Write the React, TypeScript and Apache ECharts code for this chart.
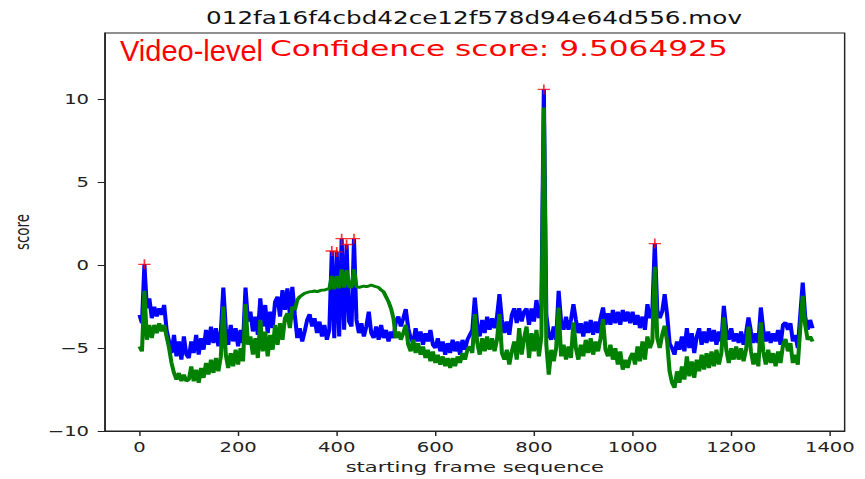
import React, { useEffect, useRef } from "react";
import * as echarts from "echarts";

// Frame step between consecutive samples
const STEP = 5;

// Blue curve (per-window score), one value every STEP frames
const blueScores = [
  -3.0, -3.5, 0.05, -2.6, -2.0, -3.2, -2.5, -3.1, -2.6, -3.0, -2.4,
  -3.9, -4.6, -5.3, -4.2, -5.5, -4.6, -5.7, -4.3, -5.4, -5.6, -4.6, -5.3,
  -4.2, -5.4, -4.4, -5.1, -3.9, -4.8, -3.7, -4.7, -3.8, -4.9, -4.0,
  -1.35,
  -3.8, -4.8, -3.6, -4.6, -3.8, -4.9, -3.9, -4.7,
  -1.35,
  -3.4, -2.8, -4.0, -3.1, -4.2, -2.0, -3.7, -2.4, -4.1, -2.8, -3.8, -2.2,
  -1.9, -3.1, -1.5, -2.7, -1.4, -3.0,
  -1.3,
  -3.0, -4.4, -3.8, -4.6, -4.0, -3.3, -2.95, -3.7, -3.2, -4.1, -3.4, -4.3,
  -3.6, -4.5, -3.9,
  0.85, -4.4, 0.8, -4.3, 1.6, -3.9, 1.25, -3.4, -3.7, 1.6,
  -3.3, -4.1, -3.5, -4.3, -3.7, -2.8, -4.1, -4.4, -3.7, -4.5, -3.6, -4.4,
  -3.9, -4.6, -4.0, -4.4, -3.4, -3.1, -3.7, -3.2,
  -2.65,
  -3.8, -4.4, -4.7, -3.8, -4.6, -4.0, -4.8, -4.1, -4.6, -3.9, -4.8, -5.0,
  -4.4, -5.2, -4.6, -5.4, -4.7, -5.3, -4.5, -5.2, -4.6, -5.4, -4.5, -5.1, -4.5,
  -4.2, -3.9, -1.95,
  -3.6, -4.3, -3.3, -4.1, -3.1, -3.9, -3.2, -3.8, -3.1,
  -1.75,
  -3.3, -4.1, -3.4, -4.2, -3.0, -2.6, -3.5, -2.6, -3.4, -2.8, -2.6, -3.6,
  -2.6, -3.4, -2.1, -3.2, -2.5,
  10.6,
  -3.0, -4.2, -4.5, -3.7, -4.5,
  -1.55,
  -3.4, -3.9, -3.1, -3.9, -3.3,
  -2.35,
  -3.3, -4.1, -3.5, -4.3, -3.4, -4.1, -3.3, -4.2, -3.4, -4.1, -3.2,
  -2.55,
  -3.6, -2.9, -3.6, -2.7, -3.5, -2.8, -3.6, -2.7, -3.4, -2.8, -3.5, -2.8,
  -3.6, -3.0, -3.8, -3.1, -3.9,
  -2.35, -3.2, -2.8, 1.3, -2.7, -3.2, -2.8, -1.75, -3.0,
  -4.7, -5.0, -5.4, -4.6, -5.1, -4.3, -5.2, -3.8, -5.0, -4.1, -5.3, -4.3,
  -3.8, -4.8, -4.0, -4.7, -3.8, -4.6, -3.9, -4.8, -4.0, -4.6,
  -2.45,
  -3.9, -4.5, -3.8, -4.6, -4.1, -4.7, -4.0, -4.8, -4.1,
  -3.15,
  -4.0, -4.7, -4.1, -4.7,
  -2.55,
  -3.9, -4.6, -4.0, -4.7, -4.1, -4.6, -3.9, -4.8, -3.6, -3.45, -3.9, -3.5,
  -4.6, -4.2, -5.0, -3.0,
  -1.05,
  -3.1, -3.9, -3.3, -3.8,
];

// Green curve (smoothed score), one value every STEP frames
const greenScores = [
  -4.9, -5.2, -1.55, -4.5, -3.6, -4.4, -3.6, -4.1, -3.5, -4.0, -3.6,
  -4.3, -5.0, -5.9, -6.5, -6.9, -6.5, -7.0, -6.6, -7.0,
  -6.9, -6.1, -7.0, -6.3, -7.1, -6.2, -6.8, -5.9, -6.6, -5.7, -6.5, -5.6,
  -6.4, -5.5,
  -2.5,
  -5.4, -6.2, -5.3, -6.1, -5.1, -6.0, -5.0, -5.8,
  -2.35,
  -4.8, -4.3, -5.4, -4.4, -5.6, -3.3, -5.2, -4.0, -5.5, -4.2, -5.1, -3.6,
  -4.8, -3.5, -4.5, -3.2, -2.9, -3.8,
  -2.5, -2.7, -2.1, -1.9, -1.8, -1.7, -1.65, -1.6, -1.6, -1.55, -1.6, -1.55,
  -1.5, -1.5, -1.45, -1.45,
  -0.65, -1.45, -0.65, -1.4, -0.25, -1.35, -0.3, -1.3, -1.35, -0.25,
  -1.3, -1.35, -1.3, -1.25, -1.3, -1.25, -1.2, -1.25, -1.3, -1.35, -1.5, -1.6,
  -1.9, -2.2, -2.6, -3.2, -4.4, -4.0, -4.5, -4.1,
  -3.6,
  -4.8, -5.2, -4.5, -5.3, -4.7, -5.4, -4.9, -5.6, -5.1, -5.8, -5.2, -5.9,
  -5.4, -6.0, -5.5, -6.1, -5.6, -6.2, -5.6, -6.1, -5.5, -5.9, -5.3, -5.7, -5.1,
  -4.9, -5.3, -2.95,
  -4.7, -5.4, -4.4, -5.2, -4.3, -5.1, -4.4, -5.2, -4.5,
  -2.95,
  -5.3, -5.7, -5.1, -6.0, -5.2, -4.6, -5.7, -3.8, -5.4, -4.4, -3.7, -5.6,
  -4.1, -5.2, -3.9, -5.5, -4.3,
  9.5064925,
  -4.8, -6.6, -5.1, -5.8, -5.0,
  -2.55,
  -5.5, -4.8, -5.7, -4.9, -5.6,
  -3.45,
  -5.0, -5.7, -4.8, -5.5, -4.5, -5.3, -4.4, -5.4, -4.6, -5.2, -4.4,
  -3.25,
  -5.1, -5.5, -4.8, -5.7, -5.0, -6.0, -5.2, -6.3, -5.7, -6.2, -5.6, -5.3,
  -6.0, -4.9, -5.8, -4.6, -5.7,
  -4.3, -5.0, -4.6, -0.1, -4.4, -5.0, -4.2, -3.65, -4.6,
  -6.4, -7.1, -7.4, -6.4, -7.1, -6.1, -6.9, -5.5, -6.7, -5.8, -6.8, -5.7,
  -6.4, -5.4, -6.3, -5.3, -6.2, -5.2, -6.1, -5.1, -6.0, -5.3,
  -3.15,
  -5.1, -5.9, -5.0, -5.7, -4.9, -5.7, -5.0, -5.8, -5.1,
  -3.7,
  -5.2, -6.0, -5.3, -6.1,
  -3.45,
  -5.2, -6.0, -5.1, -5.9, -5.3, -6.1, -5.2, -5.9, -4.8, -4.45, -5.2, -4.7,
  -5.9, -5.4, -6.0, -3.8,
  -1.85,
  -3.6, -4.5, -4.3, -4.6,
];

// Frames marked with a red "+" (peaks of the blue curve)
const peakFrames = [10, 390, 400, 410, 420, 435, 820, 1045];

const xTicks = [0, 200, 400, 600, 800, 1000, 1200, 1400];
const yTicks = [-10, -5, 0, 5, 10];

const titleText = "012fa16f4cbd42ce12f578d94e64d556.mov";
const levelText = "Video-level";
const confidenceText = "Confidence score: 9.5064925";
const xName = "starting frame sequence";
const yName = "score";

// the reference picture is horizontally stretched
const S = 1.45;
const W = 865 / S;
const H = 479;

const FONT = "'DejaVu Sans', sans-serif";
const PLUS = "path://M0,4.3H10V5.7H0Z M4.3,0H5.7V10H4.3Z";

const fmt = (v: number) => (v < 0 ? "\u2212" + Math.abs(v) : String(v));

export default function App() {
  const ref = useRef<HTMLDivElement>(null);

  useEffect(() => {
    if (!ref.current) return;
    const chart = echarts.init(ref.current, null, { renderer: "svg" });
    const bluePairs = blueScores.map((v, i) => [i * STEP, v]);
    const greenPairs = greenScores.map((v, i) => [i * STEP, v]);
    const peaks = peakFrames.map((f) => [f, blueScores[Math.round(f / STEP)]]);

    chart.setOption({
      animation: false,
      grid: {
        left: 101.5 / S,
        right: W - 844 / S,
        top: 33,
        bottom: H - 432,
        show: true,
        borderColor: "#222",
        borderWidth: 1,
        backgroundColor: "transparent",
      },
      xAxis: {
        type: "value",
        min: -70,
        max: 1430,
        splitLine: { show: false },
        axisLine: { show: true, onZero: false, lineStyle: { color: "#222", width: 1 } },
        axisTick: { show: true, customValues: xTicks, length: 5, lineStyle: { color: "#222", width: 1 } },
        axisLabel: {
          customValues: xTicks,
          formatter: (v: number) => fmt(v),
          color: "#222",
          fontFamily: FONT,
          fontSize: 13.5,
          margin: 9,
        },
        name: xName,
        nameLocation: "middle",
        nameGap: 28,
        nameTextStyle: { color: "#222", fontFamily: FONT, fontSize: 14.5 },
      },
      yAxis: {
        type: "value",
        min: -10,
        max: 14,
        splitLine: { show: false },
        axisLine: { show: true, onZero: false, lineStyle: { color: "#222", width: 1 } },
        axisTick: { show: true, customValues: yTicks, length: 5, lineStyle: { color: "#222", width: 1 } },
        axisLabel: {
          customValues: yTicks,
          formatter: (v: number) => fmt(v),
          color: "#222",
          fontFamily: FONT,
          fontSize: 13.5,
          margin: 11,
        },
        name: yName,
        nameLocation: "middle",
        nameRotate: 90,
        nameGap: 46,
        nameTextStyle: { color: "#222", fontFamily: FONT, fontSize: 13.5 },
      },
      series: [
        {
          type: "line",
          data: bluePairs,
          symbol: "none",
          silent: true,
          z: 2,
          lineStyle: { color: "#0000ff", width: 2.8 },
        },
        {
          type: "line",
          data: greenPairs,
          symbol: "none",
          silent: true,
          z: 3,
          lineStyle: { color: "#008000", width: 2.8 },
        },
        {
          type: "scatter",
          data: peaks,
          symbol: PLUS,
          symbolSize: [8.5, 10],
          silent: true,
          z: 4,
          itemStyle: { color: "#ff0000" },
        },
      ],
      graphic: [
        {
          type: "text",
          x: 474 / S,
          y: 18,
          style: {
            text: titleText,
            fill: "#111",
            font: `17px ${FONT}`,
            textAlign: "center",
            textVerticalAlign: "middle",
          },
        },
        {
          type: "text",
          x: 270 / S,
          y: 48.5,
          style: {
            text: confidenceText,
            fill: "#ff0000",
            font: `21.5px ${FONT}`,
            textAlign: "left",
            textVerticalAlign: "middle",
          },
        },
        {
          type: "text",
          x: 120 / S,
          y: 51,
          scaleX: 1 / S,
          style: {
            text: levelText,
            fill: "#ff0000",
            font: "29px 'Liberation Sans', Arial, sans-serif",
            textAlign: "left",
            textVerticalAlign: "middle",
          },
        },
      ],
    });
    return () => chart.dispose();
  }, []);

  return (
    <div
      ref={ref}
      style={{
        position: "absolute",
        left: 0,
        top: 0,
        width: W,
        height: H,
        transform: `scaleX(${S})`,
        transformOrigin: "0 0",
      }}
    />
  );
}
